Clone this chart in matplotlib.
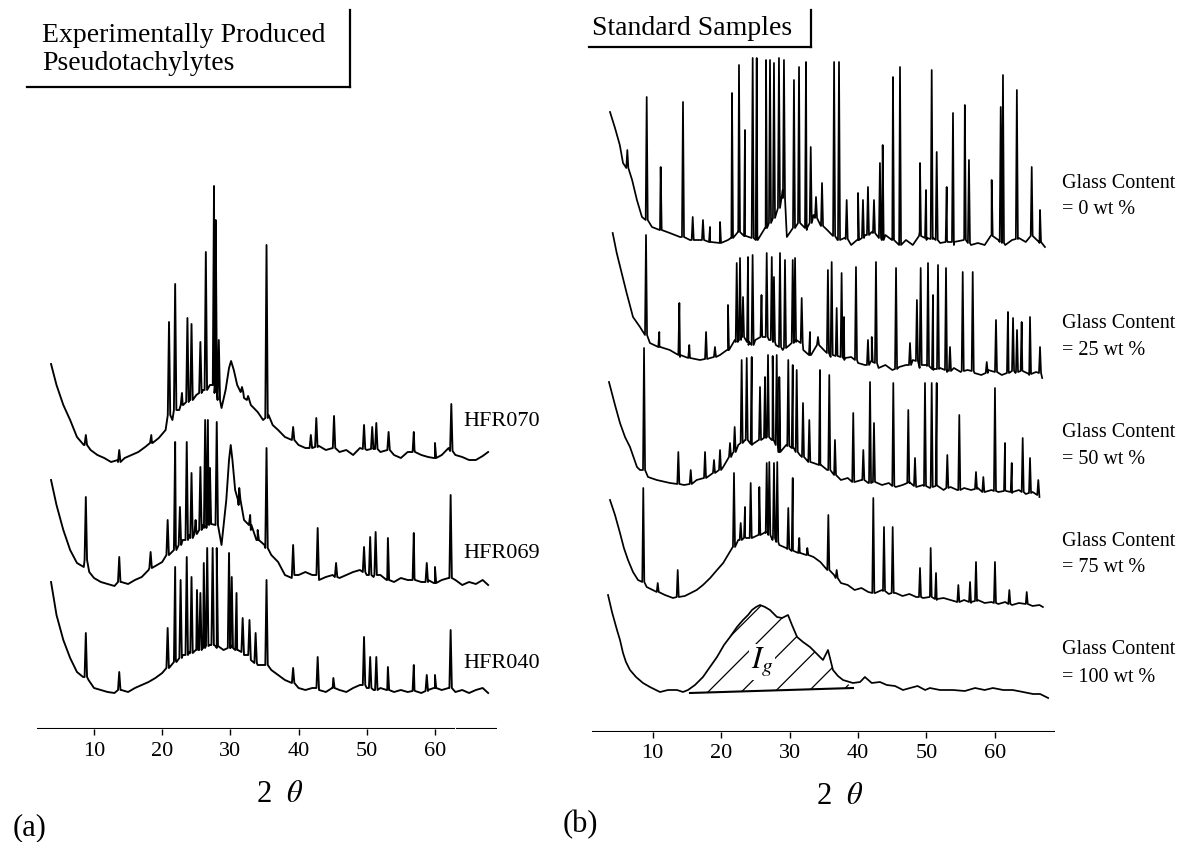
import numpy as np
import matplotlib
matplotlib.use('Agg')
import matplotlib.pyplot as plt
from matplotlib.lines import Line2D

plt.rcParams['font.family'] = ['Liberation Serif', 'DejaVu Serif']
plt.rcParams['mathtext.fontset'] = 'stix'
plt.rcParams['hatch.color'] = 'black'
plt.rcParams['hatch.linewidth'] = 0.9

# ---------------- (a) experimentally produced pseudotachylytes ----------------
ticks = [10, 20, 30, 40, 50, 60]

hfr070_bg_t = [3.7, 4.5, 5.5, 6.5, 7.5, 8.5, 9.5, 10.5, 11.5, 12.5, 13.5, 14.5, 15.5, 16.5, 17.5, 18.5, 19.5,
               20.5, 21.5, 22.5, 23, 24, 25, 26, 27, 28.7, 29.3, 29.8, 30.1, 30.5, 31, 31.5, 32, 33, 34, 34.8,
               35.6, 36.2, 37, 38, 39, 40, 41, 42, 43, 44, 45, 46, 47, 48, 49, 50, 51, 52, 53, 54, 55, 56, 57,
               58, 59, 60, 61, 62, 63, 64, 65, 66, 67, 67.8]
hfr070_bg_i = [99, 78, 58, 43, 26, 18, 13, 8, 5, 1, 3, 5, 8, 11, 16, 20, 25,
               33, 43, 53, 58, 63, 68, 73, 78, 55, 73, 95, 102, 93, 78, 71, 65, 58, 51, 43,
               48, 38, 33, 26, 23, 18, 15, 15, 17, 13, 15, 11, 13, 8, 15, 13, 15, 11, 13, 8, 5, 11, 13,
               8, 6, 5, 8, 15, 8, 6, 3, 3, 7, 11]
hfr070_pk_t = [8.8, 13.7, 18.4, 21.0, 21.9, 22.9, 23.7, 24.3, 25.6, 26.4, 27.6, 27.85, 28.3, 31.7, 32.6,
               35.3, 39.2, 41.8, 42.6, 45.2, 49.6, 50.8, 51.4, 53.2, 56.9, 60.0, 62.4]
hfr070_pk_foot = [18, 1, 20, 48, 53, 58, 61, 63, 70, 73, 78, 70, 63, 71, 63,
                  45, 23, 15, 16, 15, 14, 14, 14, 13, 11, 5, 12]
hfr070_pk_top = [28, 13, 28, 141, 179, 70, 145, 139, 121, 211, 277, 243, 123, 76, 67,
                 218, 36, 28, 45, 47, 38, 36, 40, 31, 31, 20, 59]

hfr069_bg_t = [3.7, 4.5, 5.5, 6.5, 7.5, 8.5, 9.3, 10, 11, 12, 13, 14, 15, 16, 17, 18, 19, 20, 21, 22, 23,
               24, 25, 26, 27, 28.7, 29.4, 29.8, 30.05, 30.3, 30.7, 31.2, 32, 33, 34, 35, 36, 37, 38, 39,
               40, 41, 42, 43, 44, 45, 46, 47, 48, 49, 50, 51, 52, 53, 54, 55, 56, 57, 58, 59, 60, 61, 62,
               63, 64, 65, 66, 67, 67.8]
hfr069_bg_i = [107, 82, 57, 37, 24, 20, 15, 9, 5, 3, 1, 5, 3, 7, 10, 17, 21, 25, 32, 42, 47,
               52, 57, 62, 65, 42, 87, 127, 142, 127, 97, 82, 67, 57, 47, 42, 32, 25, 12, 9,
               12, 15, 12, 7, 10, 12, 9, 12, 15, 17, 12, 10, 12, 7, 5, 9, 7, 9, 5, 7, 4, 7, 9,
               7, 2, 5, 3, 7, 2]
hfr069_pk_t = [8.8, 13.7, 18.3, 20.8, 21.9, 22.6, 23.6, 24.3, 24.9, 25.6, 26.3, 26.7, 27.0, 28.0, 31.3,
               32.9, 34.0, 35.3, 39.2, 42.8, 45.5, 49.6, 50.5, 51.3, 53.1, 56.9, 58.8, 60.0, 62.3]
hfr069_pk_foot = [27, 5, 19, 32, 37, 42, 47, 49, 53, 57, 59, 62, 63, 62, 87,
                  62, 47, 39, 12, 12, 10, 15, 12, 12, 7, 7, 5, 4, 9]
hfr069_pk_top = [90, 30, 35, 67, 145, 80, 145, 114, 67, 120, 167, 167, 119, 165, 99,
                 72, 57, 139, 42, 59, 24, 40, 50, 55, 49, 54, 24, 20, 92]

hfr040_bg_t = [3.7, 4.5, 5.5, 6.5, 7.5, 8.4, 9.2, 10, 11, 12, 13, 14, 15, 16, 17, 18, 19, 20, 21, 22, 23,
               24, 25, 26, 27, 28, 29, 30, 31, 32, 33, 34, 35, 36, 37, 38, 39, 40, 41, 42, 43, 44, 45, 46,
               47, 48, 49, 50, 51, 52, 53, 54, 55, 56, 57, 58, 59, 60, 61, 62, 63, 64, 65, 66, 67, 67.8]
hfr040_bg_i = [111, 78, 53, 35, 21, 16, 13, 5, 3, 1, 0, 3, 1, 5, 8, 11, 15, 20, 25, 33, 38,
               41, 43, 45, 48, 45, 43, 48, 43, 38, 33, 28, 28, 23, 18, 13, 10, 5, 3, 5, 3, 1, 5, 3,
               1, 5, 8, 5, 3, 5, 3, 1, 3, 1, 3, 0, 3, 5, 3, 5, 1, 3, 0, 3, 5, 0]
hfr040_pk_t = [8.8, 13.7, 20.8, 21.9, 22.7, 23.6, 24.3, 25.1, 25.6, 26.1, 26.6, 27.4, 28.0, 29.8, 30.2,
               30.9, 31.8, 32.8, 33.7, 35.3, 39.2, 42.8, 45.1, 49.6, 50.5, 51.4, 53.1, 56.9, 58.8, 60.0, 62.3]
hfr040_pk_foot = [16, 3, 25, 31, 35, 38, 40, 43, 43, 45, 47, 48, 47, 45, 45,
                  43, 41, 38, 30, 28, 10, 5, 5, 8, 5, 3, 3, 2, 2, 5, 5]
hfr040_pk_top = [60, 21, 65, 126, 113, 136, 116, 103, 100, 130, 145, 145, 145, 140, 116,
                 100, 75, 73, 60, 113, 25, 36, 15, 56, 36, 36, 26, 28, 18, 18, 63]

a_names = ['HFR070', 'HFR069', 'HFR040']
a_offsets = [266, 142, 36]

# ---------------- (b) standard samples ----------------
g0_bg_t = [3.77, 4.5, 5.2, 5.67, 7.0, 7.7, 8.44, 9.9, 11.07, 12.5, 14.0, 15.45, 16.9, 18.4, 19.8, 21.0,
           21.5, 22.5, 23.5, 25.3, 26.5, 28, 29.0, 29.6, 30.5, 31.5, 32.5, 33.5, 34.5, 35.5, 37, 38, 39,
           40, 41, 42, 43.5, 44, 45, 46, 47, 48, 49, 50, 51, 52, 53, 54, 55.5, 56.5, 57.5, 58.5, 59.5,
           60.5, 61.5, 62.5, 63.5, 64.5, 65.5, 66.5, 67.3]
g0_bg_i = [136, 120, 103, 85, 68, 48, 31, 21, 18, 15, 11, 8, 8, 6, 5, 8,
           10, 16, 12, 8, 20, 33, 58, 11, 23, 28, 18, 33, 23, 18, 8, 10, 3,
           8, 13, 16, 8, 13, 8, 3, 8, 3, 16, 8, 10, 5, 8, 3, 10, 3, 5, 3, 13,
           8, 3, 8, 10, 6, 13, 5, 1]
g0_pk_t = [6.3, 9.13, 11.17, 14.43, 15.85, 17.35, 18.38, 19.84, 21.59, 22.61, 23.49, 24.61, 25.2, 26.56,
           27.14, 27.72, 28.45, 29.18, 30.64, 31.38, 32.4, 33.09, 33.86, 34.74, 36.5, 37.22, 38.34, 40.0,
           40.72, 41.45, 42.33, 43.2, 43.6, 45.1, 46.13, 49.05, 49.93, 50.76, 51.49, 52.95, 53.87, 55.6,
           56.2, 59.52, 60.84, 61.17, 63.2, 65.37, 66.58]
g0_pk_foot = [80, 28, 18, 11, 8, 8, 6, 5, 10, 16, 12, 10, 8, 20,
              25, 30, 40, 50, 20, 25, 20, 25, 30, 22, 12, 8, 9, 8,
              10, 13, 15, 10, 8, 8, 3, 12, 10, 9, 8, 6, 6, 8,
              5, 12, 6, 5, 9, 12, 6]
g0_pk_top = [98, 151, 81, 146, 31, 28, 21, 26, 155, 183, 118, 190, 190, 188,
             188, 185, 190, 188, 168, 181, 186, 101, 51, 65, 186, 186, 48, 55,
             48, 61, 48, 85, 103, 171, 181, 85, 58, 178, 96, 61, 135, 143,
             88, 68, 141, 173, 158, 81, 38]

g25_bg_t = [4.16, 4.75, 5.48, 6.2, 7.13, 8.15, 9.6, 11.0, 12.5, 14.0, 15.45, 16.9, 18.4, 19.84, 21.0, 22,
            23, 24, 25, 26, 27, 28, 29, 30, 31, 32, 33, 34, 35, 36, 37, 38, 39, 40, 41, 42, 43, 44, 45,
            46, 47, 48, 49, 50, 51, 52, 53, 54, 55, 56, 57, 58, 59, 60, 61, 62, 63, 64, 65, 66, 66.9]
g25_bg_i = [142, 122, 102, 82, 58, 48, 32, 28, 25, 18, 17, 15, 17, 20, 25, 35,
            40, 30, 35, 40, 35, 30, 25, 30, 35, 25, 20, 30, 25, 18, 20, 15, 18, 12, 10, 15, 7, 10, 5,
            8, 10, 15, 7, 10, 5, 7, 3, 7, 3, 5, 2, 0, 5, 3, 0, 5, 2, 5, 0, 3, -3]
g25_pk_t = [9.03, 10.97, 13.9, 15.35, 17.8, 19.1, 21.0, 22.28, 22.76, 23.2, 23.93, 24.6, 25.9, 26.66,
            27.4, 27.72, 28.6, 29.33, 30.46, 30.8, 31.77, 32.98, 34.15, 35.6, 36.15, 36.88, 37.6, 37.95,
            39.7, 41.45, 42.0, 42.62, 45.55, 47.59, 48.6, 49.15, 50.22, 50.95, 51.68, 52.85, 53.43,
            55.29, 56.75, 58.8, 60.15, 61.9, 62.64, 63.22, 63.9, 65.12, 66.58]
g25_pk_foot = [40, 28, 20, 17, 16, 18, 25, 33, 35, 38, 33, 30, 38, 38,
               35, 33, 28, 27, 32, 33, 32, 20, 30, 22, 20, 19, 18, 17,
               15, 10, 13, 12, 6, 10, 14, 10, 9, 6, 6, 5, 4,
               4, 4, 2, 3, 2, 4, 3, 4, 1, 2]
g25_pk_top = [140, 43, 72, 30, 43, 28, 70, 112, 117, 78, 118, 120, 80, 122,
              118, 98, 122, 115, 115, 117, 77, 43, 38, 105, 113, 67, 102, 58,
              108, 35, 38, 113, 107, 32, 75, 107, 112, 80, 110, 107, 28,
              103, 103, 13, 55, 63, 57, 45, 53, 58, 28]

g50_bg_t = [3.62, 4.5, 5.23, 5.96, 6.69, 7.71, 8.15, 9.32, 10.6, 12.53, 14.6, 16.43, 18.4, 20.3, 21.7,
            22.5, 23.5, 24.5, 25.5, 26.5, 27.5, 28.5, 29.5, 30.5, 31.5, 32.5, 33.5, 34.5, 35.5, 36.5,
            37.5, 38.5, 39.5, 40.5, 41.5, 42.5, 43.5, 44.5, 45.5, 46.5, 47.5, 48.5, 49.5, 50.5, 51.5,
            52.5, 53.5, 54.5, 55.5, 56.5, 57.5, 58.5, 59.5, 60.5, 61.5, 62.5, 63.5, 64.5, 65.5, 66.5]
g50_bg_i = [108, 85, 67, 53, 43, 23, 20, 13, 10, 7, 5, 10, 15, 23, 37,
            45, 50, 45, 50, 53, 50, 38, 45, 42, 35, 30, 27, 25, 20, 15,
            10, 12, 8, 10, 7, 8, 5, 7, 3, 5, 8, 3, 5, 2, 5,
            0, 3, 0, 2, 0, 2, -2, 0, -2, 0, -3, 0, -4, -2, -7]
g50_pk_t = [8.74, 13.75, 15.56, 17.65, 18.96, 19.84, 21.3, 21.98, 23.0, 23.74, 24.47, 25.68, 26.41, 26.85,
            27.53, 28.12, 28.5, 29.81, 30.46, 31.04, 31.96, 32.88, 34.44, 35.8, 36.63, 39.3, 40.77, 41.75,
            42.33, 45.15, 47.34, 48.32, 49.78, 50.76, 51.49, 53.04, 54.79, 57.23, 58.3, 60.0, 61.47,
            62.45, 64.05, 65.12, 66.33]
g50_pk_foot = [20, 6, 6, 12, 17, 20, 33, 38, 47, 50, 46, 50, 52, 53,
               50, 45, 38, 44, 42, 38, 33, 28, 25, 20, 15, 8, 10, 7,
               8, 4, 7, 4, 4, 3, 4, 2, 0, 1, -2, -1, -1,
               -2, -2, -3, -5]
g50_pk_top = [142, 38, 20, 38, 30, 40, 47, 63, 130, 132, 133, 103, 113, 135,
              134, 135, 113, 130, 125, 120, 87, 70, 120, 115, 50, 77, 40, 108,
              67, 107, 80, 32, 107, 107, 107, 35, 75, 18, 13, 102, 47,
              27, 52, 32, 10]

g75_bg_t = [3.77, 4.5, 5.23, 5.8, 6.4, 7.13, 7.86, 9.13, 10.6, 11.8, 12.97, 14.7, 16.43, 17.35, 18.4, 19.4,
            20.3, 21.7, 22.5, 23.5, 24.5, 25.5, 26.5, 27.5, 28.5, 29.5, 30.5, 31.5, 32.5, 33.5, 34.5,
            35.5, 36.5, 37.5, 38.5, 39.5, 40.5, 41.5, 42.5, 43.5, 44.5, 45.5, 46.5, 47.5, 48.5, 49.5,
            50.5, 51.5, 52.5, 53.5, 54.5, 55.5, 56.5, 57.5, 58.5, 59.5, 60.5, 61.5, 62.5, 63.5, 64.5,
            65.5, 66.5, 67.0]
g75_bg_i = [105, 90, 72, 57, 45, 33, 25, 18, 13, 10, 7, 9, 15, 20, 27, 35,
            42, 58, 65, 68, 67, 70, 73, 65, 60, 57, 55, 52, 50, 48, 43,
            35, 30, 22, 20, 15, 17, 13, 12, 15, 11, 12, 9, 11, 8, 7,
            9, 5, 7, 5, 3, 5, 2, 5, 2, 3, 1, 3, 0, 2, 1,
            -1, 0, -2]
g75_pk_t = [8.63, 10.74, 13.66, 21.88, 22.86, 23.49, 24.32, 25.58, 26.66, 27.04, 27.72, 28.2, 29.81, 30.46,
            31.42, 32.59, 35.66, 36.88, 42.23, 43.79, 45.06, 49.05, 50.61, 51.39, 54.65, 56.36, 57.23,
            60.0, 62.1, 64.64]
g75_pk_foot = [23, 13, 8, 58, 65, 67, 67, 70, 72, 70, 67, 63, 56, 54,
               52, 50, 35, 27, 12, 14, 12, 8, 8, 6, 3, 3, 4,
               2, 1, 1]
g75_pk_top = [117, 22, 35, 132, 82, 98, 122, 118, 142, 143, 142, 143, 97, 127,
              67, 57, 90, 35, 107, 78, 78, 37, 57, 32, 20, 23, 43,
              43, 15, 13]

g100_bg_t = [3.48, 4.06, 4.79, 5.23, 5.67, 6.1, 6.69, 7.57, 8.59, 9.6, 11.07, 12.24, 13.56, 14.43, 15.16,
             16.18, 17.35, 18.37, 19.4, 20.42, 21.3, 22.32, 23.2, 23.93, 24.51, 25.1, 25.68, 26.41, 27.14,
             27.72, 28.16, 28.9, 29.77, 30.35, 31.1, 31.96, 32.98, 33.86, 34.88, 35.61, 36.34, 37.07,
             37.8, 39.26, 40.3, 41.0, 42.0, 43.2, 44.2, 45.4, 46.57, 47.6, 48.7, 49.8, 50.5, 51.97,
             53.87, 55.6, 57.1, 58.5, 59.7, 61.2, 62.6, 64.1, 65.56, 66.6, 67.77]
g100_bg_i = [100, 83, 65, 55, 42, 33, 25, 18, 12, 8, 3, 5, 5, 3, 5,
             10, 18, 28, 38, 50, 58, 68, 75, 80, 85, 88, 90, 88, 85,
             81, 78, 77, 80, 70, 58, 53, 48, 42, 35, 45, 25, 19,
             15, 12, 13, 18, 12, 13, 10, 9, 5, 7, 9, 5, 7, 5,
             5, 4, 7, 5, 7, 5, 5, 3, 1, 1, -3]
g100_pk_t = []
g100_pk_foot = []
g100_pk_top = []

# integrated glass hump (I_g): baseline end points
ig_t = [15.45, 39.26]
ig_i = [2, 7]

b_labels = ['0', '25', '50', '75', '100']
b_offsets = [484, 357, 242, 127, 37]


def build(bg_t, bg_i, pk_t, pk_f, pk_h, w=0.15):
    t = np.concatenate([np.asarray(bg_t, float),
                        np.repeat(np.asarray(pk_t, float), 3) + np.tile([-w, 0.0, w], len(pk_t))])
    y = np.concatenate([np.asarray(bg_i, float),
                        np.column_stack([pk_f, pk_h, pk_f]).ravel() if len(pk_t) else np.array([])])
    o = np.argsort(t, kind='stable')
    return t[o], y[o]


W, H = 1197, 842
fig = plt.figure(figsize=(W / 100, H / 100), dpi=100)


def fx(x):
    return x / W


def fy(y):
    return 1 - y / H


def style(ax):
    for s in ax.spines.values():
        s.set_visible(False)
    ax.set_yticks([])
    ax.set_xticks(ticks)
    ax.tick_params(axis='x', direction='out', length=4, width=1, labelsize=16, pad=5)
    ax.patch.set_alpha(0)


ax_a = fig.add_axes([fx(37), fy(729), (497 - 37) / W, (729 - 100) / H])
ax_a.set_xlim(1.64, 69.1)
ax_a.set_ylim(0, 629)
style(ax_a)
ax_a.axhline(0, xmin=0, xmax=(454 - 37) / 460, color='black', lw=1.5)
ax_a.axhline(0, xmin=(457 - 37) / 460, xmax=1, color='black', lw=1.5)

a_data = [(hfr070_bg_t, hfr070_bg_i, hfr070_pk_t, hfr070_pk_foot, hfr070_pk_top),
          (hfr069_bg_t, hfr069_bg_i, hfr069_pk_t, hfr069_pk_foot, hfr069_pk_top),
          (hfr040_bg_t, hfr040_bg_i, hfr040_pk_t, hfr040_pk_foot, hfr040_pk_top)]
for d, off in zip(a_data, a_offsets):
    t, y = build(*d, w=0.18)
    ax_a.plot(t, y + off, color='black', lw=1.35)

for name, yy in zip(a_names, [426, 558, 668]):
    fig.text(fx(463), fy(yy), name, fontsize=16, ha='left', va='baseline')

ax_b = fig.add_axes([fx(592), fy(732), (1055 - 592) / W, (732 - 40) / H])
ax_b.set_xlim(1.14, 68.77)
ax_b.set_ylim(0, 692)
style(ax_b)
ax_b.axhline(0, color='black', lw=1.5)

b_data = [(g0_bg_t, g0_bg_i, g0_pk_t, g0_pk_foot, g0_pk_top),
          (g25_bg_t, g25_bg_i, g25_pk_t, g25_pk_foot, g25_pk_top),
          (g50_bg_t, g50_bg_i, g50_pk_t, g50_pk_foot, g50_pk_top),
          (g75_bg_t, g75_bg_i, g75_pk_t, g75_pk_foot, g75_pk_top),
          (g100_bg_t, g100_bg_i, g100_pk_t, g100_pk_foot, g100_pk_top)]
for d, off in zip(b_data, b_offsets):
    t, y = build(*d)
    ax_b.plot(t, y + off, color='black', lw=1.25)

# hatched glass area
off = b_offsets[-1]
hump_t = [v for v in g100_bg_t if ig_t[0] < v < ig_t[1]]
hump_i = [i for v, i in zip(g100_bg_t, g100_bg_i) if ig_t[0] < v < ig_t[1]]
poly_t = [ig_t[0]] + hump_t + [ig_t[1]]
poly_i = [ig_i[0]] + hump_i + [ig_i[1]]
ax_b.fill(poly_t, np.array(poly_i) + off, facecolor='none', edgecolor='black', hatch='/', linewidth=0)
ax_b.plot(ig_t, np.array(ig_i) + off, color='black', lw=1.5)
ax_b.text(25.95, off + 33, r'$I_g$', fontsize=22, ha='center', va='center',
          bbox=dict(facecolor='white', edgecolor='none', pad=1))

for lab, yy in zip(b_labels, [183, 323, 432, 541, 650]):
    fig.text(fx(1062), fy(yy), 'Glass Content', fontsize=14.5, ha='left', va='center')
    fig.text(fx(1062), fy(yy + 27), '= ' + lab + ' wt %', fontsize=14.5, ha='left', va='center')

# titles with corner boxes
fig.text(fx(42), fy(42), 'Experimentally Produced', fontsize=20, ha='left', va='baseline')
fig.text(fx(42), fy(70), 'Pseudotachylytes', fontsize=20, ha='left', va='baseline')
fig.add_artist(Line2D([fx(27), fx(350)], [fy(87), fy(87)], color='black', lw=1.6))
fig.add_artist(Line2D([fx(350), fx(350)], [fy(10), fy(87)], color='black', lw=1.6))

fig.text(fx(592), fy(35), 'Standard Samples', fontsize=20, ha='left', va='baseline')
fig.add_artist(Line2D([fx(589), fx(811)], [fy(47), fy(47)], color='black', lw=1.6))
fig.add_artist(Line2D([fx(811), fx(811)], [fy(10), fy(47)], color='black', lw=1.6))

# axis titles and panel letters
fig.text(fx(280), fy(795), r'2  $\theta$', fontsize=22, ha='center', va='center')
fig.text(fx(840), fy(797), r'2  $\theta$', fontsize=22, ha='center', va='center')
fig.text(fx(30), fy(828), '(a)', fontsize=22, ha='center', va='center')
fig.text(fx(580), fy(825), '(b)', fontsize=22, ha='center', va='center')

fig.savefig('out.png', dpi=100, facecolor='white')
